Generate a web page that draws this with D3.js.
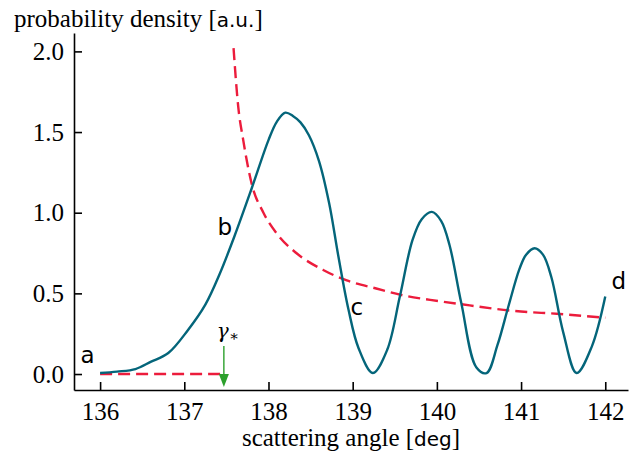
<!DOCTYPE html>
<html>
<head>
<meta charset="utf-8">
<script src="https://cdn.jsdelivr.net/npm/d3@7"></script>
<style>
  body { margin: 0; background: #fff; }
  svg { display: block; }
  .tick text { font-family: "Liberation Serif", "DejaVu Serif", serif; font-size: 25px; fill: #000; }
</style>
</head>
<body>
<div id="chart-container"></div>
<script>
// teal curve: measured probability density (angle in deg, density in a.u.)
const densAngle = [136.0, 136.2, 136.42, 136.6, 136.81, 137.04, 137.25, 137.42, 137.6, 137.8,
  138.0, 138.1, 138.2, 138.29, 138.38, 138.48, 138.6, 138.72, 138.83, 138.95, 139.07, 139.24, 139.41,
  139.56, 139.71, 139.82, 139.94, 140.05, 140.15, 140.29, 140.47, 140.59, 140.72, 140.85, 140.98,
  141.06, 141.16, 141.26, 141.36, 141.5, 141.66, 141.84, 142.0];
const densValue = [0.006, 0.015, 0.031, 0.075, 0.13, 0.27, 0.43, 0.62, 0.86, 1.15,
  1.45, 1.565, 1.62, 1.6, 1.56, 1.48, 1.32, 1.06, 0.73, 0.4, 0.16, 0.006, 0.15,
  0.48, 0.83, 0.96, 1.005, 0.95, 0.8, 0.44, 0.04, 0.006, 0.18, 0.42, 0.65,
  0.74, 0.78, 0.74, 0.6, 0.26, 0.006, 0.17, 0.48];

// red dashed: below threshold (flat) and above threshold (decaying)
const flatAngle = [136.0, 137.45];
const flatValue = [0.0, 0.0];
const decayAngle = [137.585, 137.64, 137.7, 137.8, 137.94, 138.1, 138.33, 138.65, 138.93, 139.28,
  139.64, 139.92, 140.27, 140.9, 141.46, 142.0];
const decayValue = [2.02, 1.66, 1.45, 1.18, 1.0, 0.87, 0.75, 0.645, 0.58, 0.53,
  0.483, 0.46, 0.434, 0.392, 0.372, 0.349];

const xTicks = [136, 137, 138, 139, 140, 141, 142];
const yTicks = [0.0, 0.5, 1.0, 1.5, 2.0];

const gammaAngle = 137.47;
const pointLabels = ["a", "b", "c", "d"];
const pointAngle = [135.85, 137.48, 139.05, 142.16];
const pointValue = [0.07, 0.86, 0.365, 0.53];

const width = 629, height = 457;

const svg = d3.select("#chart-container").append("svg")
    .attr("width", width)
    .attr("height", height);

const x = d3.scaleLinear().domain([135.69, 142.27]).range([74, 628]);
const y = d3.scaleLinear().domain([-0.099, 2.114]).range([390, 33]);

// axes with inward ticks
const xAxis = svg.append("g")
    .attr("transform", `translate(0, ${y.range()[0]})`)
    .call(d3.axisBottom(x).tickValues(xTicks).tickFormat(d3.format("d"))
        .tickSizeInner(-8).tickSizeOuter(0).tickPadding(12));
xAxis.selectAll("text").attr("dy", "0.71em");

const yAxis = svg.append("g")
    .attr("transform", `translate(${x.range()[0]}, 0)`)
    .call(d3.axisLeft(y).tickValues(yTicks).tickFormat(d3.format(".1f"))
        .tickSizeInner(-8).tickSizeOuter(0).tickPadding(10));

svg.selectAll(".domain").attr("stroke", "#000").attr("stroke-width", 1.6);
svg.selectAll(".tick line").attr("stroke", "#000").attr("stroke-width", 1.6);

// axis titles: serif with sans units
const yTitle = svg.append("text")
    .attr("x", 14).attr("y", 27)
    .style("font-family", "'Liberation Serif', serif").style("font-size", "25px");
yTitle.append("tspan").text("probability density [");
yTitle.append("tspan").style("font-family", "'DejaVu Sans', sans-serif").style("font-size", "20px").text("a.u.");
yTitle.append("tspan").text("]");

const xTitle = svg.append("text")
    .attr("x", 351).attr("y", 446).attr("text-anchor", "middle")
    .style("font-family", "'Liberation Serif', serif").style("font-size", "25px");
xTitle.append("tspan").text("scattering angle [");
xTitle.append("tspan").style("font-family", "'DejaVu Sans', sans-serif").style("font-size", "20px").text("deg");
xTitle.append("tspan").text("]");

const line = d3.line().x(d => x(d[0])).y(d => y(d[1]));

// red dashed threshold curve
svg.append("path")
    .datum(d3.zip(flatAngle, flatValue))
    .attr("d", line)
    .attr("fill", "none").attr("stroke", "#ec1c3c").attr("stroke-width", 2.4)
    .attr("stroke-dasharray", "12,6");
svg.append("path")
    .datum(d3.zip(decayAngle, decayValue))
    .attr("d", line.curve(d3.curveMonotoneX))
    .attr("fill", "none").attr("stroke", "#ec1c3c").attr("stroke-width", 2.4)
    .attr("stroke-dasharray", "12,6");

// teal density curve
svg.append("path")
    .datum(d3.zip(densAngle, densValue))
    .attr("d", d3.line().x(d => x(d[0])).y(d => y(d[1])).curve(d3.curveCatmullRom.alpha(0.5)))
    .attr("fill", "none").attr("stroke", "#04657a").attr("stroke-width", 2.4)
    .attr("stroke-linejoin", "round");

// threshold arrow
const gx = x(gammaAngle);
svg.append("line")
    .attr("x1", gx).attr("x2", gx)
    .attr("y1", 346).attr("y2", 376)
    .attr("stroke", "#2ca02c").attr("stroke-width", 1.4);
svg.append("path")
    .attr("d", `M${gx - 5},${374} L${gx + 5},${374} L${gx},${387} Z`)
    .attr("fill", "#2ca02c");

const gLabel = svg.append("text")
    .attr("x", gx - 7).attr("y", 338)
    .style("font-family", "'DejaVu Serif', serif").style("font-size", "20px");
gLabel.append("tspan").style("font-style", "italic").text("γ");
gLabel.append("tspan").attr("dy", 3).style("font-size", "15px").text("∗");

// point labels
svg.selectAll(".pt-label")
    .data(pointLabels)
    .enter().append("text")
    .attr("class", "pt-label")
    .attr("x", (d, i) => x(pointAngle[i]))
    .attr("y", (d, i) => y(pointValue[i]))
    .attr("text-anchor", "middle")
    .style("font-family", "'DejaVu Sans', sans-serif")
    .style("font-size", "23px")
    .text(d => d);
</script>
</body>
</html>
